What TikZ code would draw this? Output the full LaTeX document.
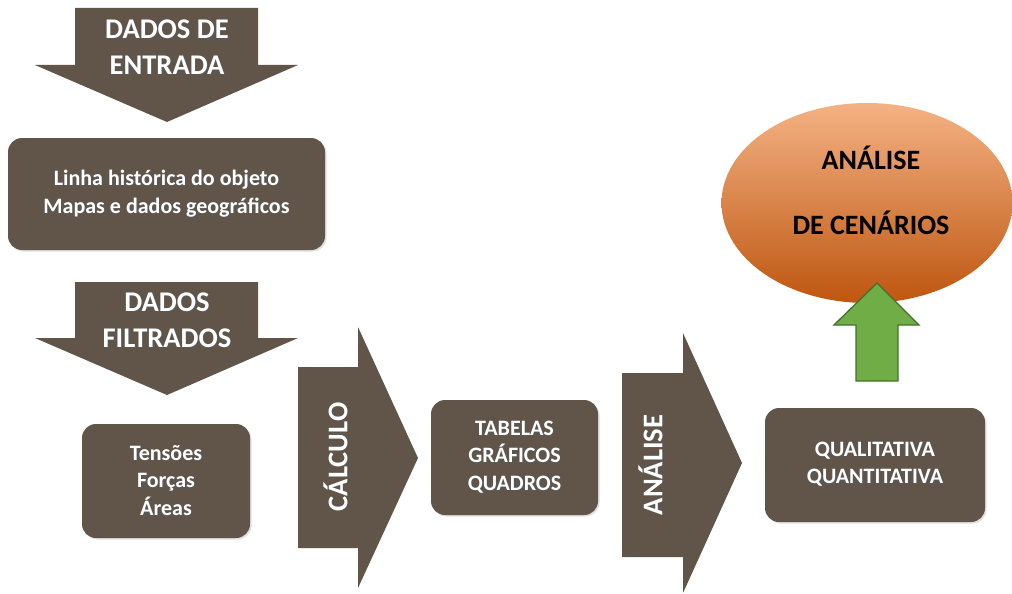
\documentclass[tikz,border=0pt]{standalone}
\usepackage{fontspec}
\setmainfont{Carlito}[BoldFont={Carlito Bold}]
\usetikzlibrary{shapes.geometric,shadows}
\definecolor{earth}{RGB}{97,84,72}
\definecolor{leaf}{RGB}{112,173,71}
\definecolor{leafdark}{RGB}{65,114,42}
\definecolor{peach}{RGB}{244,178,132}
\definecolor{amber}{RGB}{237,125,49}
\definecolor{rust}{RGB}{190,86,16}
% white lettering with a small dark offset copy behind it
\newcommand\shd[1]{\leavevmode\rlap{\kern1.2pt\raisebox{-1.2pt}{\color{black!65}#1}}#1}
\begin{document}
\begin{tikzpicture}[x=1pt,y=-1pt,
  arrowbody/.style={fill=earth},
  card/.style={fill=earth, rounded corners=14pt, inner sep=0pt,
    drop shadow={opacity=0.25, shadow xshift=1.5pt, shadow yshift=-1.5pt},
    text=white, align=center, font=\bfseries\fontsize{22}{27.5}\selectfont},
  bigtext/.style={text=white, align=center, inner sep=0pt,
    font=\bfseries\fontsize{28.5}{36}\selectfont},
  sidetext/.style={bigtext, rotate=90}
]
\useasboundingbox (0,0) rectangle (1012,594);

% input data arrow and the card under it
\path[arrowbody] (75,8) -- (258,8) -- (258,65) -- (298,65) -- (167,122) -- (35,65) -- (75,65) -- cycle;
\node[bigtext] (entrada) at (167,48) {\shd{DADOS DE}\\\shd{ENTRADA}};
\node[card, minimum width=317pt, minimum height=112pt] (fontes) at (166.5,194)
  {\shd{Linha histórica do objeto}\\\shd{Mapas e dados geográficos}};

% filtered data arrow and its card
\path[arrowbody] (75,282) -- (258,282) -- (258,338) -- (298,338) -- (167,395) -- (35,338) -- (75,338) -- cycle;
\node[bigtext] (filtrados) at (167,321) {\shd{DADOS}\\\shd{FILTRADOS}};
\node[card, minimum width=168pt, minimum height=114pt] (grandezas) at (166,481)
  {\shd{Tensões}\\\shd{Forças}\\\shd{Áreas}};

% calculation step
\path[arrowbody] (298,367) -- (358,367) -- (358,327) -- (418,458) -- (358,588) -- (358,548) -- (298,548) -- cycle;
\node[sidetext] (calculo) at (336,457) {\shd{CÁLCULO}};
\node[card, minimum width=167pt, minimum height=115pt] (tabelas) at (514.5,457.5)
  {\shd{TABELAS}\\\shd{GRÁFICOS}\\\shd{QUADROS}};

% analysis step
\path[arrowbody] (622,373) -- (683,373) -- (683,333) -- (742,463) -- (683,593) -- (683,557) -- (622,557) -- cycle;
\node[sidetext] (analise) at (651,465) {\shd{ANÁLISE}};
\node[card, minimum width=220pt, minimum height=114pt] (tipos) at (875,465)
  {\shd{QUALITATIVA}\\\shd{QUANTITATIVA}};

% scenario analysis bubble
\node[ellipse, minimum width=291pt, minimum height=200pt, inner sep=0pt,
  top color=peach, middle color=amber, bottom color=rust] (cenarios) at (867,203) {};
\node[align=center, inner sep=0pt, font=\bfseries\fontsize{28}{65}\selectfont]
  (cenariostxt) at (871,190.5) {ANÁLISE\\DE CENÁRIOS};

% green arrow pointing into the bubble
\path[fill=leaf, draw=leafdark, line width=1.3pt, line join=miter]
  (877,283) -- (919,325) -- (898,325) -- (898,381) -- (856,381) -- (856,325) -- (834,325) -- cycle;
\end{tikzpicture}
\end{document}
